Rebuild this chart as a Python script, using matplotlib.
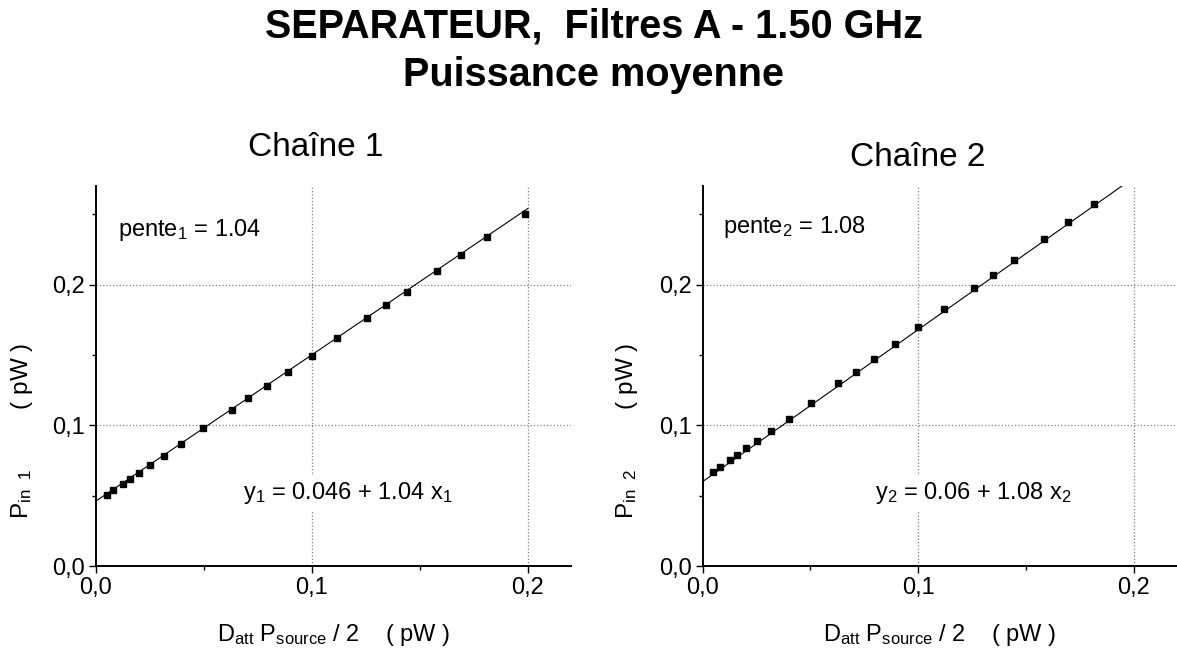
import matplotlib.pyplot as plt
from matplotlib.ticker import FixedLocator, MultipleLocator

plt.rcParams['font.family'] = ['Liberation Sans', 'DejaVu Sans']
plt.rcParams['mathtext.fontset'] = 'custom'
plt.rcParams['mathtext.rm'] = 'Liberation Sans'
plt.rcParams['mathtext.it'] = 'Liberation Sans:italic'
plt.rcParams['mathtext.default'] = 'regular'

# chaine 1 : puissance mesuree vs puissance injectee (pW)
x1 = [0.0050, 0.0080, 0.0126, 0.0157, 0.0200, 0.0251, 0.0315, 0.0397, 0.0497,
      0.0629, 0.0706, 0.0791, 0.0889, 0.1000, 0.1116, 0.1255, 0.1342, 0.1439,
      0.1579, 0.1690, 0.1812, 0.1986]
y1 = [0.0508, 0.0539, 0.0584, 0.0619, 0.0664, 0.0716, 0.0785, 0.0868, 0.0979,
      0.1111, 0.1191, 0.1277, 0.1376, 0.1492, 0.1617, 0.1759, 0.1851, 0.1948,
      0.2095, 0.2210, 0.2336, 0.2504]

# chaine 2
x2 = [0.0050, 0.0080, 0.0127, 0.0159, 0.0201, 0.0253, 0.0317, 0.0400, 0.0503,
      0.0629, 0.0709, 0.0795, 0.0893, 0.1000, 0.1121, 0.1257, 0.1347, 0.1444,
      0.1582, 0.1695, 0.1816]
y2 = [0.0667, 0.0704, 0.0752, 0.0787, 0.0837, 0.0889, 0.0960, 0.1047, 0.1158,
      0.1300, 0.1378, 0.1473, 0.1574, 0.1695, 0.1823, 0.1972, 0.2069, 0.2173,
      0.2322, 0.2444, 0.2574]

# ajustements lineaires y = a + b x
a1, b1 = 0.046, 1.04
a2, b2 = 0.06, 1.08
fit_x = [0.0, 0.2]

ticks = [0.0, 0.1, 0.2]
tick_labels = ['0,0', '0,1', '0,2']

fig = plt.figure(figsize=(11.77, 6.55), dpi=100)
W, H = 1177, 655


def make_axes(left_px, right_px):
    return fig.add_axes([left_px / W, (H - 566) / H,
                         (right_px - left_px) / W, 380 / H])


def style(ax):
    ax.set_xlim(0, 0.22)
    ax.set_ylim(0, 0.27)
    for s in ['top', 'right']:
        ax.spines[s].set_visible(False)
    for s in ['left', 'bottom']:
        ax.spines[s].set_linewidth(1.4)
    ax.xaxis.set_major_locator(FixedLocator(ticks))
    ax.yaxis.set_major_locator(FixedLocator(ticks))
    ax.set_xticklabels(tick_labels)
    ax.set_yticklabels(tick_labels)
    ax.xaxis.set_minor_locator(MultipleLocator(0.05))
    ax.yaxis.set_minor_locator(MultipleLocator(0.05))
    ax.tick_params(which='major', direction='out', length=5, width=1.0,
                   labelsize=17, pad=3)
    ax.tick_params(which='minor', direction='out', length=3, width=1.0)
    for v in ticks[1:]:
        ax.axvline(v, color='#808080', ls=':', lw=0.9, zorder=0)
        ax.axhline(v, color='#808080', ls=':', lw=0.9, zorder=0)


def draw(ax, x, y, a, b, idx, pente_pos, eq_pos, ylab_x):
    ax.plot(fit_x, [a + b * v for v in fit_x], color='black', lw=0.8, zorder=2)
    ax.plot(x, y, 's', color='black', ms=5, zorder=3)
    ax.text(pente_pos[0], pente_pos[1], 'pente$_{%d}$ = %.2f' % (idx, b),
            fontsize=17, va='baseline', ha='left',
            bbox=dict(facecolor='white', edgecolor='none', pad=3))
    ax.text(eq_pos[0], eq_pos[1],
            'y$_{%d}$ = %g + %.2f x$_{%d}$' % (idx, a, b, idx),
            fontsize=17, va='baseline', ha='left',
            bbox=dict(facecolor='white', edgecolor='none', pad=3))
    ax.text(0.5, -0.197, 'D$_{att}$ P$_{source}$ / 2    ( pW )',
            transform=ax.transAxes, fontsize=17, ha='center', va='baseline')
    ax.text(ylab_x, 0.355, 'P$_{in\\ \\ %d}$' % idx + ' ' * 9 + '( pW )',
            transform=ax.transAxes, fontsize=17.5, rotation=90,
            ha='center', va='center')


ax1 = make_axes(95.7, 571)
style(ax1)
draw(ax1, x1, y1, a1, b1, 1, (0.0104, 0.2344), (0.0682, 0.0477), -0.155)

ax2 = make_axes(702.7, 1177)
style(ax2)
draw(ax2, x2, y2, a2, b2, 2, (0.0095, 0.2363), (0.0798, 0.0477), -0.16)

fig.text(594 / W, 1 - 37 / H, 'SEPARATEUR,  Filtres A - 1.50 GHz',
         fontsize=28.5, fontweight='bold', ha='center', va='baseline')
fig.text(594 / W, 1 - 86 / H, 'Puissance moyenne',
         fontsize=28.5, fontweight='bold', ha='center', va='baseline')
fig.text(316 / W, 1 - 156 / H, 'Chaîne 1', fontsize=24,
         ha='center', va='baseline')
fig.text(918 / W, 1 - 166 / H, 'Chaîne 2', fontsize=24,
         ha='center', va='baseline')

fig.savefig('out.png', dpi=100)
